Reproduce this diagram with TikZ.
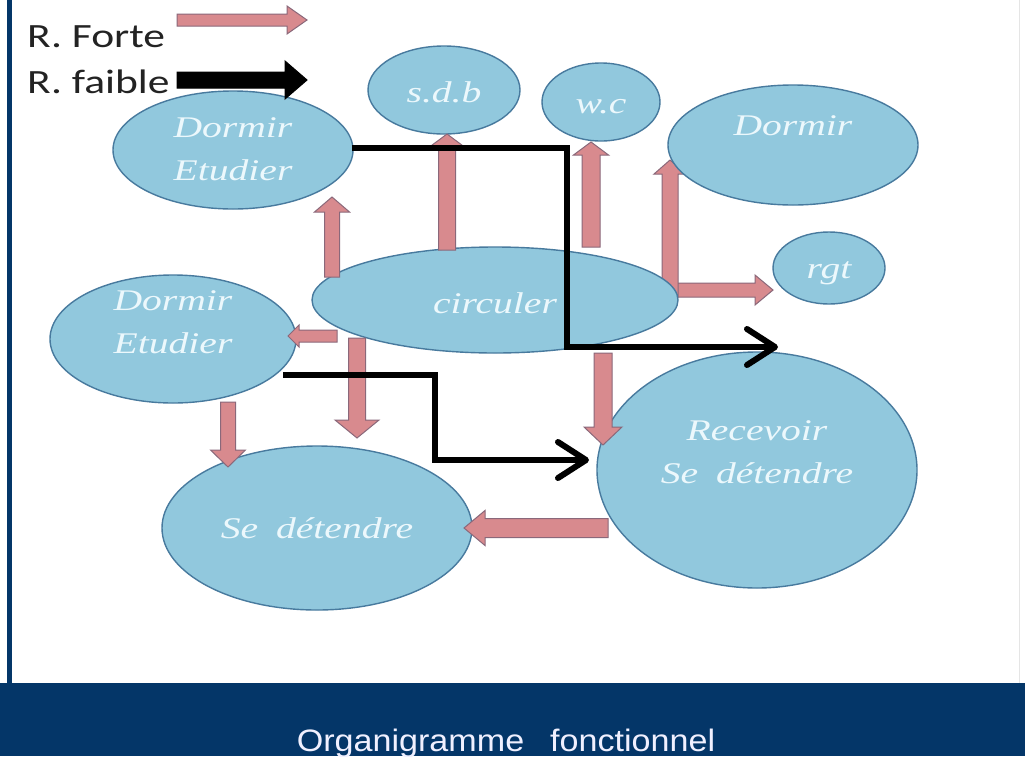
\documentclass[tikz,border=0pt]{standalone}
\usepackage{graphicx}
\usepackage{fontspec}
\setmainfont{Liberation Serif}
\newfontfamily\legfont{Carlito}
\newfontfamily\titfont{Liberation Sans}
\usetikzlibrary{shapes.geometric,arrows.meta,calc}
\definecolor{navy}{RGB}{4,54,104}
\definecolor{ellfill}{RGB}{145,200,221}
\definecolor{elldraw}{RGB}{72,122,158}
\definecolor{elltext}{RGB}{236,248,252}
\definecolor{pinkfill}{RGB}{216,138,142}
\definecolor{pinkdraw}{RGB}{138,104,122}
\definecolor{legcol}{RGB}{35,35,35}
\newcommand\etxt[2]{\raisebox{#1}[0pt][0pt]{\scalebox{1.32}[1]{\begin{tabular}{@{}c@{}}#2\end{tabular}}}}
\newcommand\blockarrow[6]{%
  \coordinate (bah) at ($#3!#6!#2$);
  \draw[#1] ($#2!#4!90:#3$) -- ($(bah)!#4!90:#3$) -- ($(bah)!#5!90:#3$) -- #3
    -- ($(bah)!#5!-90:#3$) -- ($(bah)!#4!-90:#3$) -- ($#2!#4!-90:#3$) -- cycle;}
\tikzset{
  ell/.style={ellipse, draw=elldraw, line width=1.4pt, fill=ellfill, inner sep=0pt,
    outer sep=0pt, text=elltext, font=\fontsize{30}{43}\selectfont\itshape},
  pinkar/.style={fill=pinkfill, draw=pinkdraw, line width=1pt, line join=miter},
  blackar/.style={fill=black, draw=black, line width=1pt},
  weak/.style={line width=6pt, line join=miter, -{Straight Barb[length=28pt,width=36pt,round]}},
  legtext/.style={anchor=base west, inner sep=0pt, font=\legfont\fontsize{34}{40}\selectfont, text=legcol},
}
\begin{document}
\begin{tikzpicture}[x=1pt,y=-1pt]
\useasboundingbox (0,0) rectangle (1025,756);
\fill[white] (0,0) rectangle (1025,756);
\fill[navy] (0,683) rectangle (1025,756);
\fill[navy] (7,0) rectangle (11.5,683);
\draw[gray!20, line width=1pt] (1019,0) -- (1019,683);
\node[anchor=base, inner sep=0pt, text=white!94!blue, font=\titfont\fontsize{31}{36}\selectfont] (title) at (506,751)
  {\scalebox{1.1}[1]{Organigramme\hspace{15pt} fonctionnel}};

% legend text
\node[legtext] (lforte) at (27,47) {\scalebox{1.28}[1]{R. Forte}};
\node[legtext] (lfaible) at (27,93) {\scalebox{1.28}[1]{R. faible}};

% arrow coordinates behind ellipses
\coordinate (d0) at (670,297); \coordinate (d1) at (670,160);
\coordinate (d2s) at (663,290); \coordinate (d2) at (773,290);
\blockarrow{pinkar}{(d2s)}{(d2)}{7pt}{15pt}{18pt}
\blockarrow{pinkar}{(d0)}{(d1)}{8pt}{16pt}{14pt}

% ellipses
\node[ell, minimum width=240pt, minimum height=118pt] (de1) at (233,150) {\etxt{-7pt}{Dormir\\Etudier}};
\node[ell, minimum width=152pt, minimum height=88pt] (sdb) at (444,90) {\etxt{-10.5pt}{s.d.b}};
\node[ell, minimum width=118pt, minimum height=78pt] (wc) at (601,102) {\etxt{-9.5pt}{w.c}};
\node[ell, minimum width=250pt, minimum height=120pt] (dr) at (793,145) {\etxt{11.5pt}{Dormir}};
\node[ell, minimum width=112pt, minimum height=72pt] (rgt) at (829,268) {\etxt{-8.5pt}{rgt}};
\node[ell, minimum width=366pt, minimum height=106pt] (circ) at (495,300) {\etxt{-11.5pt}{circuler}};
\node[ell, minimum width=246pt, minimum height=128pt] (de2) at (173,339) {\etxt{9pt}{Dormir\\Etudier}};
\node[ell, minimum width=310pt, minimum height=164pt] (sd) at (317,528) {\etxt{-8.5pt}{Se\hspace{6pt} détendre}};
\node[ell, minimum width=320pt, minimum height=236pt] (rec) at (757,470) {\etxt{10pt}{Recevoir\\Se\hspace{6pt} détendre}};

% strong relations (pink block arrows)
\coordinate (a0) at (332,277); \coordinate (a1) at (332,197);
\coordinate (b0) at (447,250); \coordinate (b1) at (447,134);
\coordinate (c0) at (591,247); \coordinate (c1) at (591,142);
\coordinate (e0) at (337,336); \coordinate (e1) at (288,336);
\coordinate (f0) at (357,338); \coordinate (f1) at (357,438);
\coordinate (g0) at (228,402); \coordinate (g1) at (228,467);
\coordinate (h0) at (603,353); \coordinate (h1) at (603,445);
\coordinate (i0) at (608,528); \coordinate (i1) at (464,528);
\blockarrow{pinkar}{(a0)}{(a1)}{7.5pt}{17.5pt}{15pt}
\blockarrow{pinkar}{(b0)}{(b1)}{8.5pt}{17.5pt}{13pt}
\blockarrow{pinkar}{(c0)}{(c1)}{9pt}{17.5pt}{13pt}
\blockarrow{pinkar}{(e0)}{(e1)}{6pt}{11pt}{11pt}
\blockarrow{pinkar}{(f0)}{(f1)}{8.5pt}{22pt}{18pt}
\blockarrow{pinkar}{(g0)}{(g1)}{7.5pt}{17.5pt}{17pt}
\blockarrow{pinkar}{(h0)}{(h1)}{9pt}{19pt}{18pt}
\blockarrow{pinkar}{(i0)}{(i1)}{9.5pt}{17.5pt}{21pt}

% weak relations (black lines)
\coordinate (k1s) at (352,148); \coordinate (k1m) at (567,347); \coordinate (k1e) at (778,347);
\coordinate (k2s) at (283,375); \coordinate (k2m) at (435,460); \coordinate (k2e) at (589,460);
\draw[weak] (k1s) -| (k1m) -- (k1e);
\draw[weak] (k2s) -| (k2m) -- (k2e);

% legend arrows
\coordinate (lp0) at (177,20); \coordinate (lp1) at (307,20);
\coordinate (lb0) at (177,80); \coordinate (lb1) at (307,80);
\blockarrow{pinkar}{(lp0)}{(lp1)}{6pt}{14pt}{20pt}
\blockarrow{blackar}{(lb0)}{(lb1)}{8pt}{19pt}{22pt}
\end{tikzpicture}
\end{document}
